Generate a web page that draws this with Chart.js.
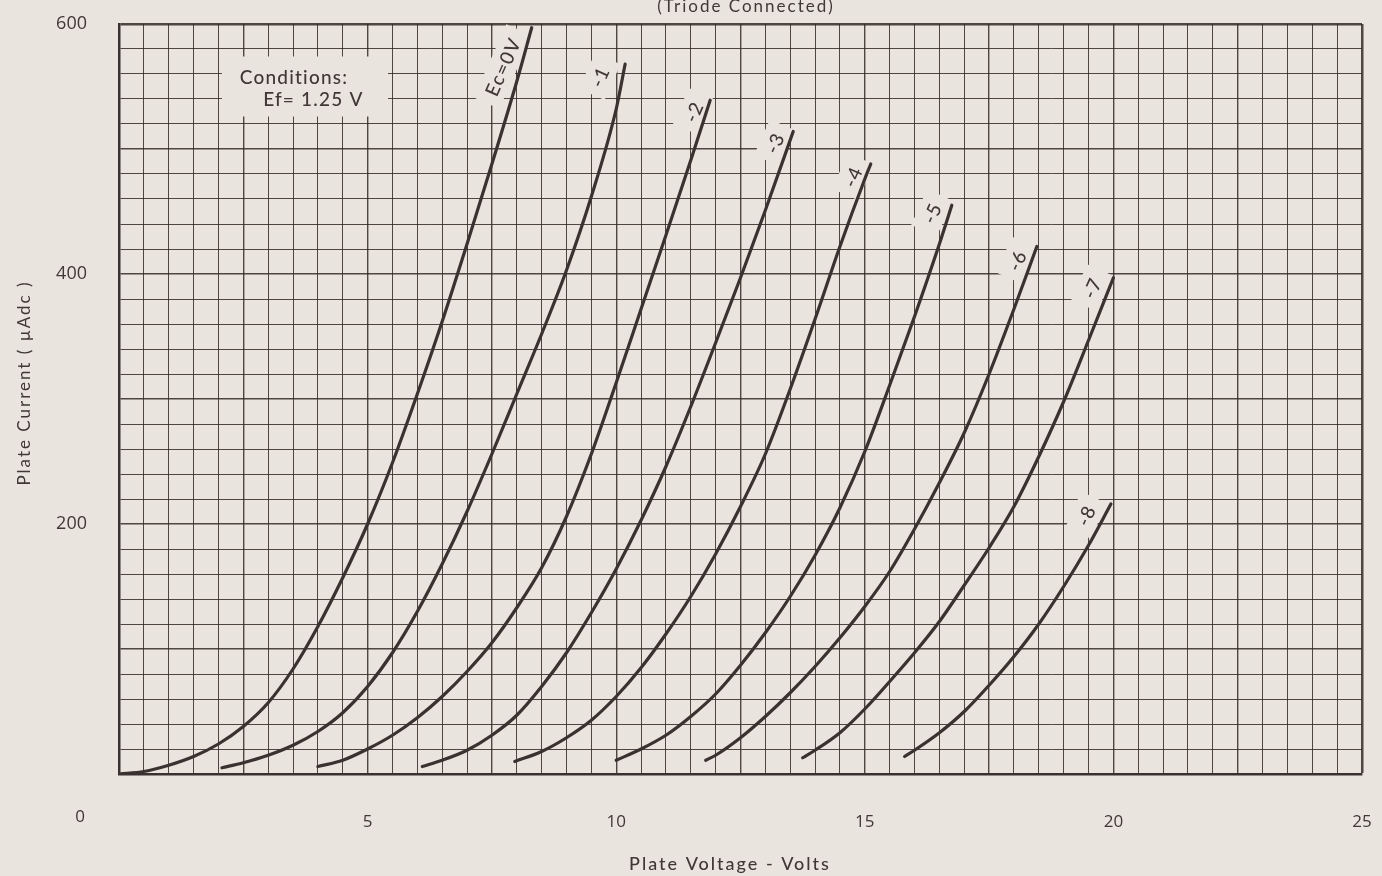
<!DOCTYPE html>
<html>
<head>
<meta charset="utf-8">
<script src="https://cdn.jsdelivr.net/npm/chart.js@4.4.1/dist/chart.umd.min.js"></script>
<style>
  html, body { margin: 0; padding: 0; background: #e9e4de; }
  canvas { display: block; }
</style>
</head>
<body>
<canvas id="plate" width="1382" height="876"></canvas>
<script>
// tick labels
const voltLabels = [5, 10, 15, 20, 25];
const currentLabels = [200, 400, 600];

// plate current (uA) vs plate voltage (V), one list per grid voltage
const ec0 = [[0,0],[0.5,2],[1,7],[1.5,14],[2,24],[2.5,38],[3,57],[3.5,84],[4,118],[4.5,157],[5,200],[5.5,249],[6,304],[6.5,362],[7,424],[7.5,488],[8,554],[8.3,597]];
const ec1 = [[2.07,5],[2.5,9],[3,15],[3.5,23],[4,34],[4.5,49],[5,70],[5.5,97],[6,130],[6.5,168],[7,210],[7.5,256],[8,304],[8.5,352],[9,403],[9.5,462],[10,532],[10.18,568]];
const ec2 = [[4,6],[4.5,11],[5,20],[5.5,31],[6,45],[6.5,62],[7,82],[7.5,105],[8,133],[8.5,165],[9,206],[9.5,256],[10,313],[10.5,372],[11,431],[11.5,491],[11.89,539]];
const ec3 = [[6.1,6],[6.5,11],[7,19],[7.5,31],[8,47],[8.5,70],[9,97],[9.5,129],[10,164],[10.5,203],[11,246],[11.5,294],[12,345],[12.5,397],[13,451],[13.56,514]];
const ec4 = [[7.96,10],[8.5,18],[9,29],[9.5,43],[10,62],[10.5,85],[11,112],[11.5,142],[12,176],[12.5,214],[13,256],[13.5,308],[14,364],[14.5,422],[15,476],[15.12,488]];
const ec5 = [[10,11],[10.5,20],[11,31],[11.5,46],[12,64],[12.5,87],[13,113],[13.5,142],[14,175],[14.5,213],[15,258],[15.5,311],[16,366],[16.5,424],[16.75,455]];
const ec6 = [[11.8,11],[12,15],[12.5,29],[13,46],[13.5,65],[14,86],[14.5,109],[15,134],[15.5,162],[16,196],[16.5,233],[17,273],[17.5,320],[18,372],[18.46,422]];
const ec7 = [[13.75,13],[14,19],[14.5,33],[15,52],[15.5,74],[16,97],[16.5,122],[17,151],[17.5,181],[18,214],[18.5,254],[19,298],[19.5,347],[20,397]];
const ec8 = [[15.8,14],[16,19],[16.5,33],[17,50],[17.5,71],[18,94],[18.5,120],[19,150],[19.5,183],[19.95,216]];

const curves = [ec0, ec1, ec2, ec3, ec4, ec5, ec6, ec7, ec8];
const curveNames = ['Ec=0V', '-1', '-2', '-3', '-4', '-5', '-6', '-7', '-8'];
const conditionLines = ['Conditions:', 'Ef= 1.25 V'];

// where the curve names sit (in volts / uA)
const nameAt = [[7.72,566],[9.67,558],[11.56,530],[13.19,505],[14.76,478],[16.35,449],[18.06,411],[19.57,389],[19.45,207]];

const paper = '#e9e4de';
const ink = '#3a3230';
const textInk = '#3f3835';

function setSpacing(ctx, px) {
  if ('letterSpacing' in ctx) ctx.letterSpacing = px + 'px';
}

// keep the plot box where the sheet has it
function noEdgePadding(s) {
  s.paddingLeft = 0;
  s.paddingRight = 0;
  s.paddingTop = 0;
  s.paddingBottom = 0;
}

const paperPlugin = {
  id: 'paper',
  beforeDraw(chart) {
    const ctx = chart.ctx;
    ctx.save();
    ctx.fillStyle = paper;
    ctx.fillRect(0, 0, chart.width, chart.height);
    ctx.restore();
  },
  beforeDatasetsDraw(chart) {
    const ctx = chart.ctx;
    const xs = chart.scales.x, ys = chart.scales.y;

    // conditions box, knocks the grid out behind it
    ctx.save();
    ctx.fillStyle = paper;
    const bx = xs.getPixelForValue(2.07), bx2 = xs.getPixelForValue(5.41);
    const by = ys.getPixelForValue(574), by2 = ys.getPixelForValue(526);
    ctx.fillRect(bx, by, bx2 - bx, by2 - by);
    ctx.fillStyle = textInk;
    ctx.font = '500 19px Lato';
    setSpacing(ctx, 1.2);
    ctx.textBaseline = 'middle';
    ctx.textAlign = 'left';
    ctx.fillText(conditionLines[0], xs.getPixelForValue(2.43), ys.getPixelForValue(557));
    ctx.fillText(conditionLines[1], xs.getPixelForValue(2.9), ys.getPixelForValue(539));
    ctx.restore();

    // curve names along the curves
    ctx.save();
    ctx.font = '500 19px Lato';
    setSpacing(ctx, 1.5);
    ctx.textAlign = 'center';
    ctx.textBaseline = 'middle';
    curveNames.forEach((name, i) => {
      const px = xs.getPixelForValue(nameAt[i][0]);
      const py = ys.getPixelForValue(nameAt[i][1]);
      const w = ctx.measureText(name).width;
      ctx.save();
      ctx.translate(px, py);
      ctx.rotate(-66 * Math.PI / 180);
      ctx.fillStyle = paper;
      ctx.fillRect(-w / 2 - 9, -14, w + 18, 28);
      ctx.fillStyle = textInk;
      ctx.fillText(name, 0, 1);
      ctx.restore();
    });
    ctx.restore();
  },
  afterDraw(chart) {
    const ctx = chart.ctx;
    ctx.save();
    ctx.fillStyle = textInk;
    ctx.textAlign = 'center';
    ctx.textBaseline = 'middle';

    ctx.font = '17px Lato';
    setSpacing(ctx, 2);
    ctx.fillText('(Triode Connected)', 746, 7);

    ctx.font = '500 18px Lato';
    ctx.fillText('Plate Voltage - Volts', 730, 864);

    ctx.font = '17px "Open Sans"';
    setSpacing(ctx, 0);
    ctx.fillText('0', 80, 817);

    ctx.translate(25, 383);
    ctx.rotate(-Math.PI / 2);
    ctx.font = '17px Lato';
    setSpacing(ctx, 2);
    ctx.fillText('Plate Current ( \u00b5Adc )', 0, 0);
    ctx.restore();
  }
};

new Chart(document.getElementById('plate'), {
  type: 'line',
  data: {
    datasets: curves.map((pts, i) => ({
      label: curveNames[i],
      data: pts.map(p => ({ x: p[0], y: p[1] })),
      borderColor: ink,
      borderWidth: 3.2,
      pointRadius: 0,
      fill: false,
      cubicInterpolationMode: 'monotone',
      borderCapStyle: 'round'
    }))
  },
  options: {
    responsive: false,
    animation: false,
    layout: { padding: { top: 24, right: 20, left: 0, bottom: 0 } },
    plugins: { legend: { display: false }, tooltip: { enabled: false } },
    scales: {
      x: {
        type: 'linear',
        min: 0,
        max: 25,
        afterFit: s => { s.height = 102; noEdgePadding(s); },
        ticks: {
          stepSize: 0.5,
          autoSkip: false,
          maxRotation: 0,
          padding: 38,
          color: textInk,
          font: { family: 'Open Sans', size: 17 },
          callback: v => voltLabels.includes(v) ? String(v) : ''
        },
        grid: {
          drawTicks: false,
          color: 'rgba(50,42,38,0.85)',
          lineWidth: c => c.tick.value === 25 ? 2.5 : (c.tick.value % 2.5 === 0 ? 1.4 : 1)
        },
        border: { color: ink, width: 2.5 }
      },
      y: {
        type: 'linear',
        min: 0,
        max: 600,
        afterFit: s => { s.width = 119; noEdgePadding(s); },
        ticks: {
          stepSize: 20,
          autoSkip: false,
          padding: 32,
          color: textInk,
          font: { family: 'Open Sans', size: 18 },
          callback: v => currentLabels.includes(v) ? String(v) : ''
        },
        grid: {
          drawTicks: false,
          color: 'rgba(50,42,38,0.85)',
          lineWidth: c => c.tick.value === 600 ? 2.5 : (c.tick.value % 100 === 0 ? 1.4 : 1)
        },
        border: { color: ink, width: 2.5 }
      }
    }
  },
  plugins: [paperPlugin]
});
</script>
</body>
</html>
